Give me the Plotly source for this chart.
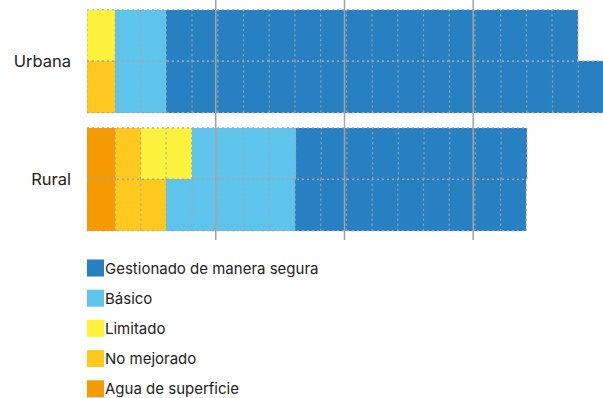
import plotly.graph_objects as go

# ---- data ----
categories = ["Urbana", "Rural"]
# each category has two rows (top, bottom); values in % of population
row_category = ["Urbana", "Urbana", "Rural", "Rural"]
series_names = ["Agua de superficie", "No mejorado", "Limitado", "Básico",
                "Gestionado de manera segura"]
agua_superficie = [0, 0, 5.5, 5.5]
no_mejorado = [0, 5.5, 4.9, 9.9]
limitado = [5.5, 0, 9.9, 0]
basico = [9.9, 9.9, 20.2, 25.0]
gestionado = [79.9, 85.0, 44.9, 44.9]
series_values = [agua_superficie, no_mejorado, limitado, basico, gestionado]
series_colors = ["#f59b00", "#ffc91f", "#fff23d", "#5ec4ec", "#2680c2"]
legend_order = ["Gestionado de manera segura", "Básico", "Limitado",
                "No mejorado", "Agua de superficie"]
grid_ticks = [25, 50, 75]
cell_unit = 5  # each segment is split into ~5-point cells

# ---- layout helpers ----
W, H = 603, 398
ML, MR, MT, MB = 87, 0, 0, 158
plot_h = H - MT - MB
cat_gap = 0.3
row_pos = []
for ci, cat in enumerate(categories):
    base = (len(categories) - 1 - ci) * (2 + cat_gap) + 0.7
    row_pos += [base + 1, base]
cat_pos = [(row_pos[2 * i] + row_pos[2 * i + 1]) / 2 for i in range(len(categories))]
y_range = [0.02, 4.69]

fig = go.Figure()
for name, vals, col in zip(series_names, series_values, series_colors):
    fig.add_trace(go.Bar(
        orientation="h", y=row_pos, x=vals, name=name, width=1,
        marker=dict(color=col, line=dict(width=0)), showlegend=False,
        hoverinfo="skip"))

# dotted cell borders derived from data
gx, gy = [], []
for r, y in enumerate(row_pos):
    start = 0.0
    edges = [0.0]
    for s in series_values:
        v = s[r]
        if v <= 0:
            continue
        n = max(1, int(round(v / cell_unit)))
        for k in range(1, n + 1):
            edges.append(start + v * k / n)
        start += v
    for e in edges:
        gx += [e, e, None]
        gy += [y - 0.5, y + 0.5, None]
    for yy in (y - 0.5, y + 0.5):
        gx += [0, start, None]
        gy += [yy, yy, None]
fig.add_trace(go.Scatter(x=gx, y=gy, mode="lines", showlegend=False,
                         hoverinfo="skip",
                         line=dict(color="rgba(165,165,165,0.95)", width=1.2,
                                   dash="2px,3px")))

# solid gridlines above bars
for t in grid_ticks:
    fig.add_shape(type="line", xref="x", yref="paper", x0=t, x1=t, y0=0, y1=1,
                  line=dict(color="#a3a3a3", width=1.5), layer="above")

# custom legend
font_family = "Inter"
leg_y0, leg_dy = 268, 30.2
for i, name in enumerate(legend_order):
    col = series_colors[series_names.index(name)]
    ypx = leg_y0 + i * leg_dy
    yp = (plot_h - (ypx - MT)) / plot_h
    fig.add_shape(type="rect", xref="paper", yref="paper",
                  xsizemode="pixel", ysizemode="pixel", xanchor=0, yanchor=yp,
                  x0=0, x1=17, y0=-8.5, y1=8.5,
                  fillcolor=col, line=dict(width=0))
    fig.add_annotation(x=0, y=yp, xref="paper", yref="paper", text=name,
                       showarrow=False, xanchor="left", yanchor="middle",
                       xshift=16, font=dict(size=15, color="#222",
                                            family=font_family))

fig.update_layout(
    width=W, height=H, barmode="stack",
    margin=dict(l=ML, r=MR, t=MT, b=MB),
    plot_bgcolor="white", paper_bgcolor="white",
    font=dict(family=font_family, color="#222"),
    xaxis=dict(range=[0, 100.2], showgrid=False, zeroline=False,
               showticklabels=False, showline=False, fixedrange=True),
    yaxis=dict(range=y_range, tickvals=cat_pos, ticktext=categories,
               showgrid=False, zeroline=False, showline=False, ticks="",
               ticklabelstandoff=15, tickfont=dict(size=16.5, color="#222")),
)
fig.write_html("out.html", config={"displayModeBar": False},
               post_script="document.body.style.margin='0';"
                           "document.body.style.overflow='hidden';")
